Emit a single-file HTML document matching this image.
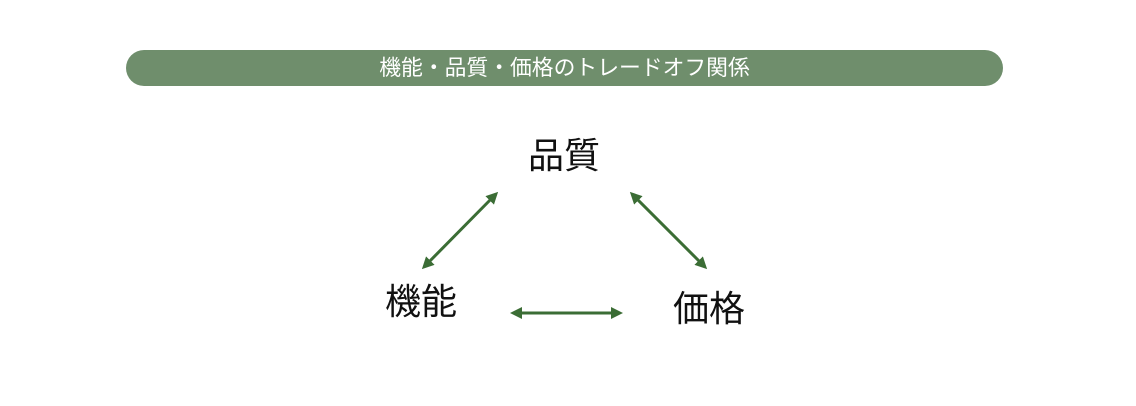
<!DOCTYPE html>
<html><head><meta charset="utf-8"><style>
html,body{margin:0;padding:0;background:#fff;}
body{width:1136px;height:406px;position:relative;overflow:hidden;font-family:"Liberation Sans","Noto Sans CJK JP",sans-serif;}
.banner{position:absolute;left:126px;top:50px;width:877px;height:36px;border-radius:18px;background:#6f8e6c;color:#fff;font-size:21.8px;line-height:36px;text-align:center;}
.lbl{position:absolute;font-size:36px;color:#111;line-height:1;white-space:nowrap;}
</style></head><body>
<div class="banner">機能・品質・価格のトレードオフ関係</div>
<div class="lbl" style="left:528px;top:138px;">品質</div>
<div class="lbl" style="left:385px;top:284px;">機能</div>
<div class="lbl" style="left:673px;top:291px;">価格</div>
<svg width="1136" height="406" style="position:absolute;left:0;top:0">
<defs><marker id="a" markerWidth="4" markerHeight="4" refX="3" refY="2" orient="auto-start-reverse" markerUnits="strokeWidth"><path d="M0,0 L4,2 L0,4 z" fill="#3b6d35"/></marker></defs>
<g stroke="#3b6d35" stroke-width="3" marker-start="url(#a)" marker-end="url(#a)">
<line x1="496" y1="194" x2="424" y2="267"/>
<line x1="632" y1="194" x2="705" y2="267"/>
<line x1="513" y1="313" x2="620" y2="313"/>
</g></svg>
</body></html>
